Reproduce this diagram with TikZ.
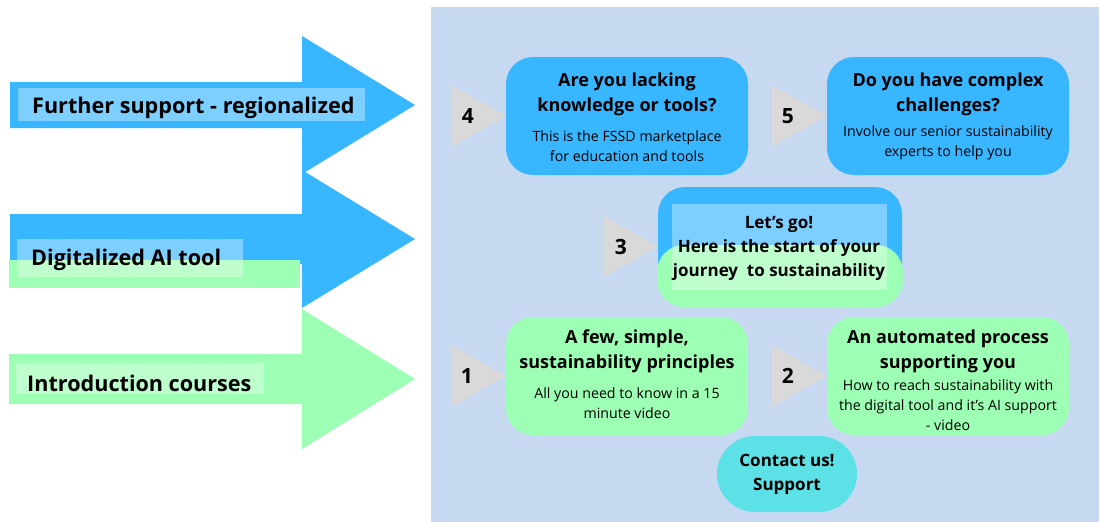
\documentclass[tikz,border=0pt]{standalone}
\usepackage{fontspec}
\setmainfont{Open Sans}
\usepackage{tikz}

\definecolor{skyblue}{HTML}{38B6FF}
\definecolor{mint}{HTML}{9DFFB4}
\definecolor{panelblue}{HTML}{C6D9F1}
\definecolor{trigray}{HTML}{D9D9D9}
\definecolor{turq}{HTML}{5CE1E6}

\tikzset{
  card/.style={rounded corners=27pt, minimum width=242pt, minimum height=118pt, inner sep=0pt},
  glass/.style={fill=white, fill opacity=0.35},
  tri/.style={fill=trigray},
  num/.style={font=\bfseries\fontsize{21}{24}\selectfont, inner sep=0pt},
  title/.style={font=\bfseries\fontsize{18}{25}\selectfont, align=center, inner sep=0pt},
  smalltitle/.style={font=\bfseries\fontsize{17}{24}\selectfont, align=center, inner sep=0pt},
  body/.style={font=\fontsize{14.2}{20}\selectfont, align=center, inner sep=0pt},
  arrowtext/.style={font=\bfseries\fontsize{21.6}{24}\selectfont, anchor=west, inner sep=0pt},
}

\begin{document}
\begin{tikzpicture}[x=1pt, y=-1pt]
    \useasboundingbox (0,0) rectangle (1100,522);
    \fill[panelblue] (431,7) rectangle (1099,522); % panel
\fill[skyblue] (10,82) -- (302,82) -- (302,36) -- (415,105) -- (302,174) -- (302,128) -- (10,128) -- cycle; % arrow.further
\fill[skyblue] (10,214) -- (302,214) -- (302,170) -- (415,239) -- (302,308) -- (302,264) -- (10,264) -- cycle; % arrow.digital
\fill[mint] (9,354) -- (302,354) -- (302,309) -- (415,379) -- (302,449) -- (302,404) -- (9,404) -- cycle; % arrow.intro
\fill[mint] (9,260) rectangle (300,288); % strip under digital
\fill[glass] (18,88) rectangle (365,121); % label.further
\node[arrowtext] (further) at (32,107.5) {Further support - regionalized};
\fill[glass] (17,239) rectangle (243,277); % label.digital
\node[arrowtext] (digital) at (31,259.5) {Digitalized AI tool};
\fill[glass] (16,363) rectangle (264,394); % label.intro
\node[arrowtext] (intro) at (27,383.5) {Introduction courses};

\node[card, fill=skyblue] (q4) at (627,116) {}; % step 4
\fill[tri] (q4.west) -- ++(-55,-31) -- ++(0,62) -- cycle;
\node[num] (n4) at ([xshift=-38pt]q4.west) {4};
\node[title] (q4t) at (627,94) {Are you lacking\\knowledge or tools?};
\node[body] (q4b) at (627,146) {This is the FSSD marketplace\\for education and tools};

\node[card, fill=skyblue] (q5) at (948,116) {}; % step 5
\fill[tri] (q5.west) -- ++(-55,-31) -- ++(0,62) -- cycle;
\node[num] (n5) at ([xshift=-39pt]q5.west) {5};
\node[title] (q5t) at (948,94) {Do you have complex\\challenges?};
\node[body] (q5b) at (948,142.5) {Involve our senior sustainability\\experts to help you};

\node[card, fill=skyblue, minimum width=244pt, minimum height=119pt] (q3) at (780,246.5) {}; % step 3
\fill[mint, rounded corners=27pt] (657,245) rectangle (903,307);
\fill[glass] (672,204) rectangle (887,290);
\fill[tri] (q3.west) -- ++(-55,-31) -- ++(0,62) -- cycle;
\node[num] (n3) at ([xshift=-37pt]q3.west) {3};
\node[smalltitle] (q3t) at (779,248) {Let's go!\\Here is the start of your\\journey\ \ to sustainability};

\node[card, fill=mint] (q1) at (627,376) {}; % step 1
\fill[tri] (q1.west) -- ++(-55,-31) -- ++(0,62) -- cycle;
\node[num] (n1) at ([xshift=-39pt]q1.west) {1};
\node[title] (q1t) at (627,351.5) {A few, simple,\\sustainability principles};
\node[body] (q1b) at (627,403.5) {All you need to know in a 15\\minute video};

\node[card, fill=mint] (q2) at (948,376) {}; % step 2
\fill[tri] (q2.west) -- ++(-55,-31) -- ++(0,62) -- cycle;
\node[num] (n2) at ([xshift=-39pt]q2.west) {2};
\node[title] (q2t) at (948,351) {An automated process\\supporting you};
\node[body] (q2b) at (948,405.5) {How to reach sustainability with\\the digital tool and it's AI support\\- video};

\node[smalltitle, fill=turq, rounded corners=38pt, minimum width=140pt, minimum height=76pt] (contact) at (787,474) {Contact us!\\Support};

    \end{tikzpicture}
\end{document}
